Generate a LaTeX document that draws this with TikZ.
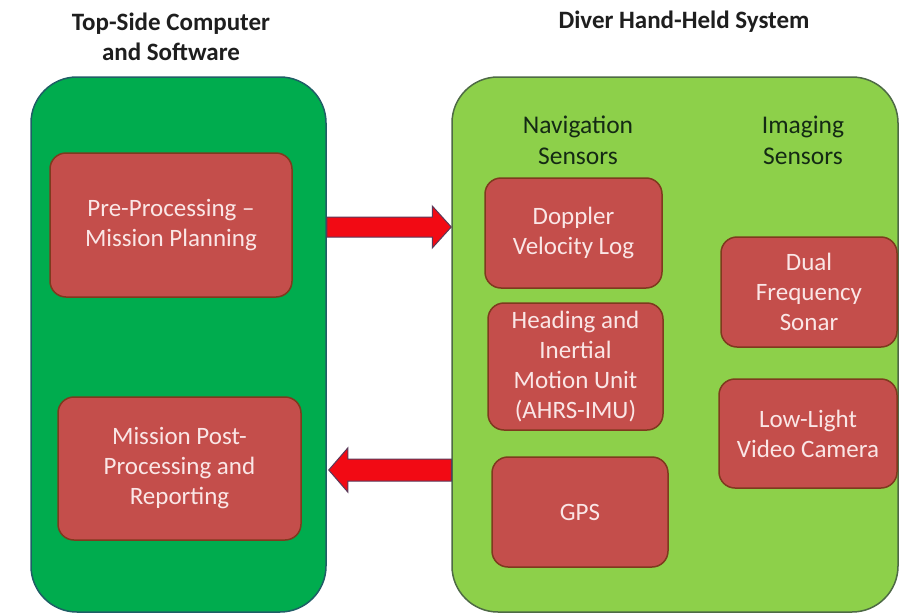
\documentclass[tikz,border=0pt]{standalone}
\usepackage{fontspec}
\setmainfont{Carlito}
\usetikzlibrary{calc}
\definecolor{darkgreen}{HTML}{00AC4E}
\definecolor{darkgreenline}{HTML}{1F5E66}
\definecolor{lightgreen}{HTML}{8DD04A}
\definecolor{lightgreenline}{HTML}{4E6A45}
\definecolor{boxred}{HTML}{C44E4B}
\definecolor{boxredline}{HTML}{7E3A1E}
\definecolor{boxtext}{HTML}{FAE6E6}
\definecolor{arrowred}{HTML}{F20A14}
\definecolor{arrowline}{HTML}{5A3A5A}
\definecolor{titletext}{HTML}{1E1E1E}
\definecolor{sectext}{HTML}{142A14}
\tikzset{
  x=1pt, y=-1pt,
  bigbox/.style={draw, line width=1.5pt, rounded corners=46pt, inner sep=0pt},
  redbox/.style={draw=boxredline, fill=boxred, line width=1.5pt, rounded corners=16pt,
    inner sep=0pt, align=center, text=boxtext,
    font=\fontsize{25}{30}\selectfont},
  titlelabel/.style={align=center, text=titletext, font=\fontsize{25}{30}\selectfont\bfseries},
  seclabel/.style={align=center, text=sectext, font=\fontsize{25.5}{31}\selectfont},
  bigarrow/.style={draw=arrowline, fill=arrowred, line width=1pt, line join=miter}
}
\begin{document}
\begin{tikzpicture}
\useasboundingbox (0,0) rectangle (899,613);
\fill[white] (0,0) rectangle (899,613);

% containers
\node[bigbox, draw=darkgreenline, fill=darkgreen, minimum width=295pt, minimum height=535pt] (L) at (178.5,344.5) {};
\node[bigbox, draw=lightgreenline, fill=lightgreen, minimum width=446pt, minimum height=535pt] (R) at (675,344.5) {};

% titles
\node[titlelabel] (tL) at (171,37) {Top-Side Computer\\and Software};
\node[titlelabel] (tR) at (684,22) {Diver Hand-Held System};

% section labels
\node[seclabel] (nav) at (578,140) {Navigation\\Sensors};
\node[seclabel] (img) at (803,140) {Imaging\\Sensors};

% left boxes
\node[redbox, minimum width=242pt, minimum height=144pt] (pp) at (171,225) {Pre-Processing --\\Mission Planning};
\node[redbox, minimum width=243pt, minimum height=143pt] (mp) at (179.5,468.5) {Mission Post-\\Processing and\\Reporting};

% navigation sensors
\node[redbox, minimum width=177pt, minimum height=110pt] (dvl) at (573.5,233) {Doppler\\Velocity Log};
\node[redbox, minimum width=175pt, minimum height=127pt] (him) at (575.5,366.5) {Heading and\\Inertial\\Motion Unit\\(AHRS-IMU)};
\node[redbox, minimum width=176pt, minimum height=110pt] (gps) at (580,512) {GPS};

% imaging sensors
\node[redbox, minimum width=176pt, minimum height=110pt] (dfs) at (809,292) {Dual\\Frequency\\Sonar};
\node[redbox, minimum width=178pt, minimum height=109pt] (llv) at (808,433.5) {Low-Light\\Video Camera};

% arrows
\coordinate (a1s) at (L.east |- 0,227);
\coordinate (a1e) at (R.west |- 0,227);
\draw[bigarrow] ($(a1s)+(0,-10)$) -- ($(a1e)+(-19,-10)$) -- ($(a1e)+(-19,-21)$) -- (a1e)
  -- ($(a1e)+(-19,21)$) -- ($(a1e)+(-19,10)$) -- ($(a1s)+(0,10)$) -- cycle;

\coordinate (a2s) at (R.west |- 0,470);
\coordinate (a2e) at ($(L.east |- 0,470)+(2,0)$);
\draw[bigarrow] ($(a2s)+(0,-11)$) -- ($(a2e)+(19,-11)$) -- ($(a2e)+(19,-22)$) -- (a2e)
  -- ($(a2e)+(19,22)$) -- ($(a2e)+(19,11)$) -- ($(a2s)+(0,11)$) -- cycle;
\end{tikzpicture}
\end{document}
